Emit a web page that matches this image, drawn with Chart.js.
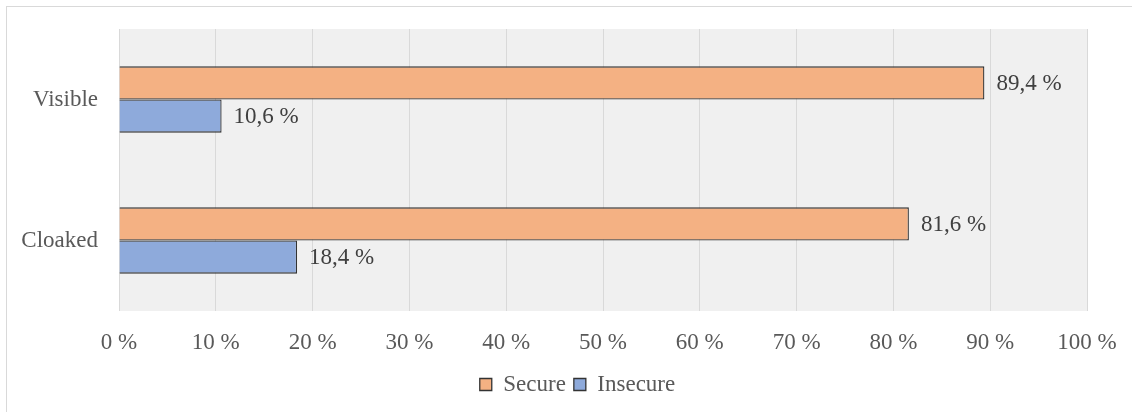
<!DOCTYPE html>
<html>
<head>
<meta charset="utf-8">
<script src="https://cdn.jsdelivr.net/npm/chart.js@4/dist/chart.umd.min.js"></script>
<style>
    html, body { margin: 0; padding: 0; background: #fff; }
    #wrap { width: 1132px; height: 412px; }
</style>
</head>
<body>
<div id="wrap"><canvas id="secChart" width="1132" height="412"></canvas></div>
<script>
const categories = ['Visible', 'Cloaked'];
const secureValues = [89.4, 81.6];
const insecureValues = [10.6, 18.4];
const xTicks = [0, 10, 20, 30, 40, 50, 60, 70, 80, 90, 100];

const serif = '"Liberation Serif", "Times New Roman", serif';

function fmtPct(v) {
    return v.toFixed(1).replace('.', ',') + ' %';
}

// grey plot background + thin frame around the whole figure
const backdrop = {
    id: 'backdrop',
    afterLayout(chart) {
        // center the legend on the whole canvas, not on the padded box
        if (chart.legend) {
            chart.legend.left += 34;
            chart.legend.right += 34;
        }
    },
    beforeDraw(chart) {
        const { ctx, chartArea: a } = chart;
        ctx.save();
        ctx.fillStyle = '#f0f0f0';
        ctx.fillRect(a.left, a.top, a.right - a.left, a.bottom - a.top);
        ctx.strokeStyle = '#d9d9d9';
        ctx.lineWidth = 1;
        ctx.strokeRect(6.5, 6.5, chart.width + 20, chart.height + 20);
        ctx.restore();
    }
};

// value labels to the right of each bar
const barLabels = {
    id: 'barLabels',
    afterDatasetsDraw(chart) {
        const ctx = chart.ctx;
        ctx.save();
        ctx.font = '23px ' + serif;
        ctx.fillStyle = '#404040';
        ctx.textAlign = 'left';
        ctx.textBaseline = 'middle';
        chart.data.datasets.forEach((ds, i) => {
            chart.getDatasetMeta(i).data.forEach((bar, j) => {
                ctx.fillText(fmtPct(ds.data[j]), bar.x + 12, bar.y + 1);
            });
        });
        ctx.restore();
    }
};

new Chart(document.getElementById('secChart'), {
    type: 'bar',
    data: {
        labels: categories,
        datasets: [
            {
                label: 'Secure',
                data: secureValues,
                backgroundColor: '#f4b183',
                borderColor: '#333333',
                borderWidth: 1.3,
                borderSkipped: 'start'
            },
            {
                label: 'Insecure',
                data: insecureValues,
                backgroundColor: '#8eaadb',
                borderColor: '#333333',
                borderWidth: 1.3,
                borderSkipped: 'start'
            }
        ]
    },
    options: {
        indexAxis: 'y',
        responsive: false,
        animation: false,
        categoryPercentage: 0.47,
        barPercentage: 1.0,
        layout: { padding: { top: 29, right: 45, left: 0, bottom: 6 } },
        scales: {
            x: {
                min: 0,
                max: 100,
                afterBuildTicks(scale) {
                    scale.ticks = xTicks.map(v => ({ value: v }));
                },
                afterFit(scale) {
                    scale.height = 54;
                    scale.paddingLeft = 0;
                    scale.paddingRight = 0;
                },
                grid: { color: '#d9d9d9', drawTicks: false, lineWidth: 1 },
                border: { display: false },
                ticks: {
                    padding: 18,
                    color: '#595959',
                    font: { family: serif, size: 23 },
                    callback: v => v + ' %'
                }
            },
            y: {
                afterFit(scale) {
                    scale.width = 119;
                    scale.paddingTop = 0;
                    scale.paddingBottom = 0;
                },
                grid: { display: false, drawTicks: false },
                border: { display: false },
                ticks: {
                    padding: 21,
                    color: '#595959',
                    font: { family: serif, size: 23 }
                }
            }
        },
        plugins: {
            tooltip: { enabled: false },
            legend: {
                position: 'bottom',
                labels: {
                    boxWidth: 12,
                    boxHeight: 12,
                    padding: 8,
                    color: '#595959',
                    font: { family: serif, size: 23 }
                }
            }
        }
    },
    plugins: [backdrop, barLabels]
});
</script>
</body>
</html>
